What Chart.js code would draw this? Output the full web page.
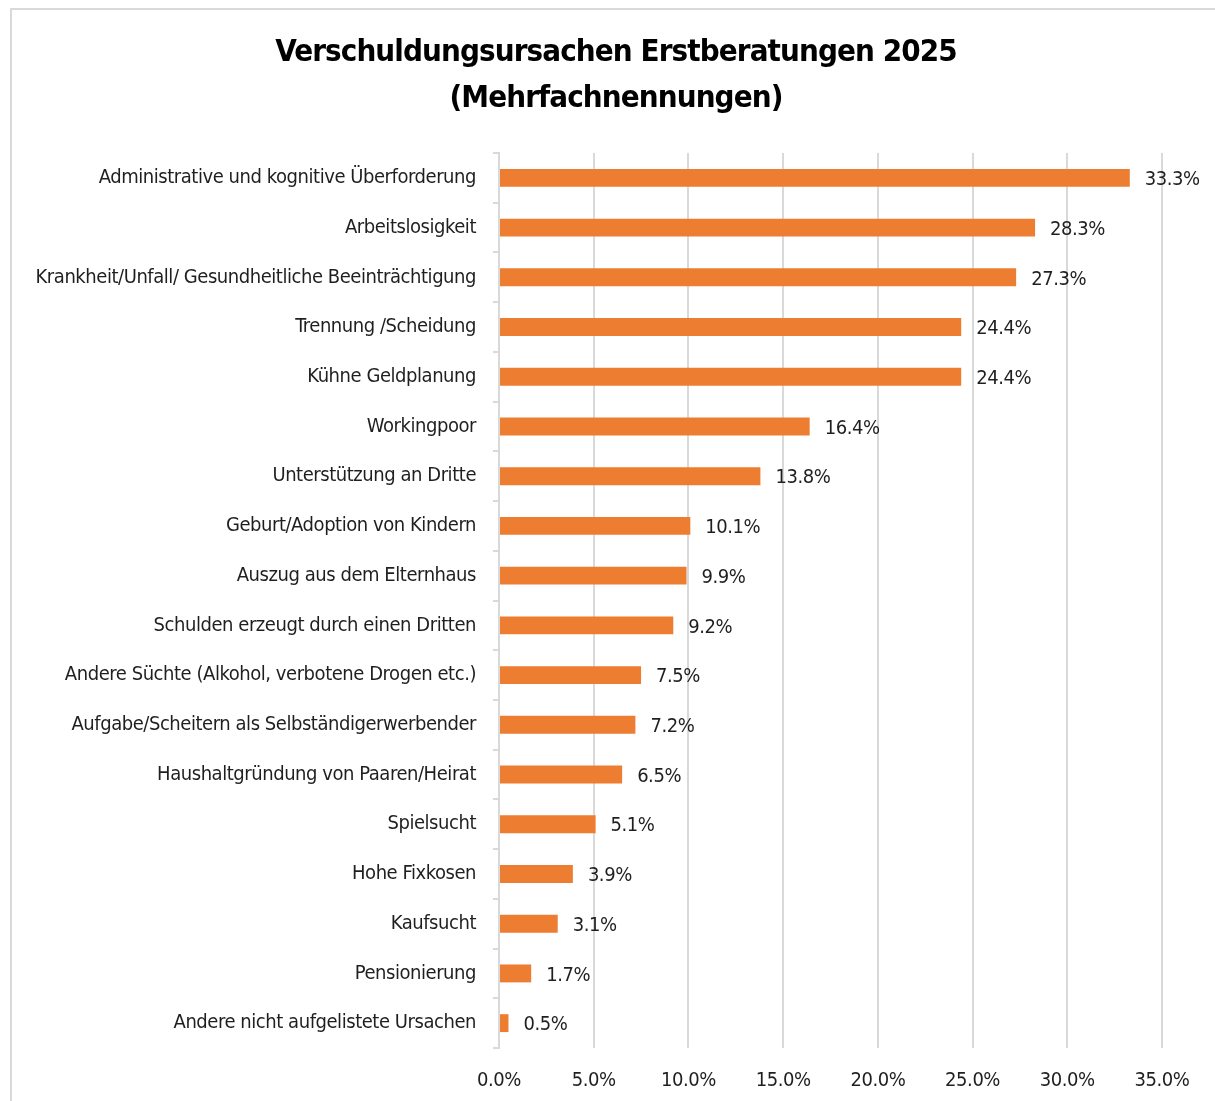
<!DOCTYPE html>
<html>
<head>
<meta charset="utf-8">
<script src="https://cdn.jsdelivr.net/npm/chart.js@4"></script>
<style>
  html, body { margin: 0; padding: 0; background: #fff; overflow: hidden; }
  #frame { position: absolute; left: 10px; top: 8px; width: 1230px; height: 1120px; border: 2px solid #d9d9d9; }
  #wrap { position: absolute; left: 0; top: 0; width: 1215px; height: 1101px; }
</style>
</head>
<body>
<div id="frame"></div>
<div id="wrap"><canvas id="chart"></canvas></div>
<script>
// Verschuldungsursachen, Anteil in Prozent
const causes = [
  'Administrative und kognitive Überforderung',
  'Arbeitslosigkeit',
  'Krankheit/Unfall/ Gesundheitliche Beeinträchtigung',
  'Trennung /Scheidung',
  'Kühne Geldplanung',
  'Workingpoor',
  'Unterstützung an Dritte',
  'Geburt/Adoption von Kindern',
  'Auszug aus dem Elternhaus',
  'Schulden erzeugt durch einen Dritten',
  'Andere Süchte (Alkohol, verbotene Drogen etc.)',
  'Aufgabe/Scheitern als Selbständigerwerbender',
  'Haushaltgründung von Paaren/Heirat',
  'Spielsucht',
  'Hohe Fixkosen',
  'Kaufsucht',
  'Pensionierung',
  'Andere nicht aufgelistete Ursachen'
];
const shares = [33.3, 28.3, 27.3, 24.4, 24.4, 16.4, 13.8, 10.1, 9.9, 9.2, 7.5, 7.2, 6.5, 5.1, 3.9, 3.1, 1.7, 0.5];
const xTicks = [0, 5, 10, 15, 20, 25, 30, 35];
const titleLines = ['Verschuldungsursachen Erstberatungen 2025', '(Mehrfachnennungen)'];

const FONT = "'DejaVu Sans Condensed', 'Liberation Sans Narrow', sans-serif";
const TEXT = '#1f1f1f';
const GRID = '#d9d9d9';
const SPACING = '-0.45px';

// etwas engere Schrift, damit es dem schmalen Original naeher kommt
const tightText = {
  id: 'tightText',
  beforeLayout(chart) { chart.ctx.letterSpacing = SPACING; },
  beforeDraw(chart) { chart.ctx.letterSpacing = SPACING; }
};

// Titel ueber die ganze Flaeche zentriert
const bigTitle = {
  id: 'bigTitle',
  afterDraw(chart) {
    const ctx = chart.ctx;
    ctx.save();
    ctx.letterSpacing = '-0.9px';
    ctx.font = 'bold 31px ' + FONT;
    ctx.fillStyle = '#000';
    ctx.textAlign = 'center';
    ctx.textBaseline = 'middle';
    titleLines.forEach((line, i) => ctx.fillText(line, 616, 53 + i * 46));
    ctx.restore();
  }
};

// Prozentwerte rechts neben die Balken schreiben
const valueLabels = {
  id: 'valueLabels',
  afterDatasetsDraw(chart) {
    const ctx = chart.ctx;
    const meta = chart.getDatasetMeta(0);
    ctx.save();
    ctx.font = '20px ' + FONT;
    ctx.fillStyle = TEXT;
    ctx.textAlign = 'left';
    ctx.textBaseline = 'middle';
    meta.data.forEach((bar, i) => {
      ctx.fillText(shares[i].toFixed(1) + '%', bar.x + 15, bar.y + 2);
    });
    ctx.restore();
  }
};

new Chart(document.getElementById('chart'), {
  type: 'bar',
  data: {
    labels: causes,
    datasets: [{
      data: shares,
      backgroundColor: '#ED7D31',
      barPercentage: 0.36,
      categoryPercentage: 1
    }]
  },
  options: {
    indexAxis: 'y',
    responsive: true,
    maintainAspectRatio: false,
    animation: false,
    layout: { padding: { top: 153, right: 53, bottom: 0, left: 0 } },
    plugins: {
      legend: { display: false },
      tooltip: { enabled: false },
      title: { display: false }
    },
    scales: {
      x: {
        min: 0,
        max: 35,
        afterBuildTicks(scale) { scale.ticks = xTicks.map(v => ({ value: v })); },
        afterFit(scale) { scale.height = 53; },
        grid: { color: GRID, lineWidth: 2, drawTicks: false },
        border: { display: false },
        ticks: {
          color: TEXT,
          padding: 21,
          font: { family: FONT, size: 20 },
          callback: v => v.toFixed(1) + '%'
        }
      },
      y: {
        afterFit(scale) { scale.width = 499; },
        grid: { color: GRID, lineWidth: 2, drawOnChartArea: false, tickLength: 6 },
        border: { display: true, color: GRID, width: 2 },
        ticks: {
          color: TEXT,
          padding: 17,
          font: { family: FONT, size: 20 }
        }
      }
    }
  },
  plugins: [tightText, valueLabels, bigTitle]
});
</script>
</body>
</html>
